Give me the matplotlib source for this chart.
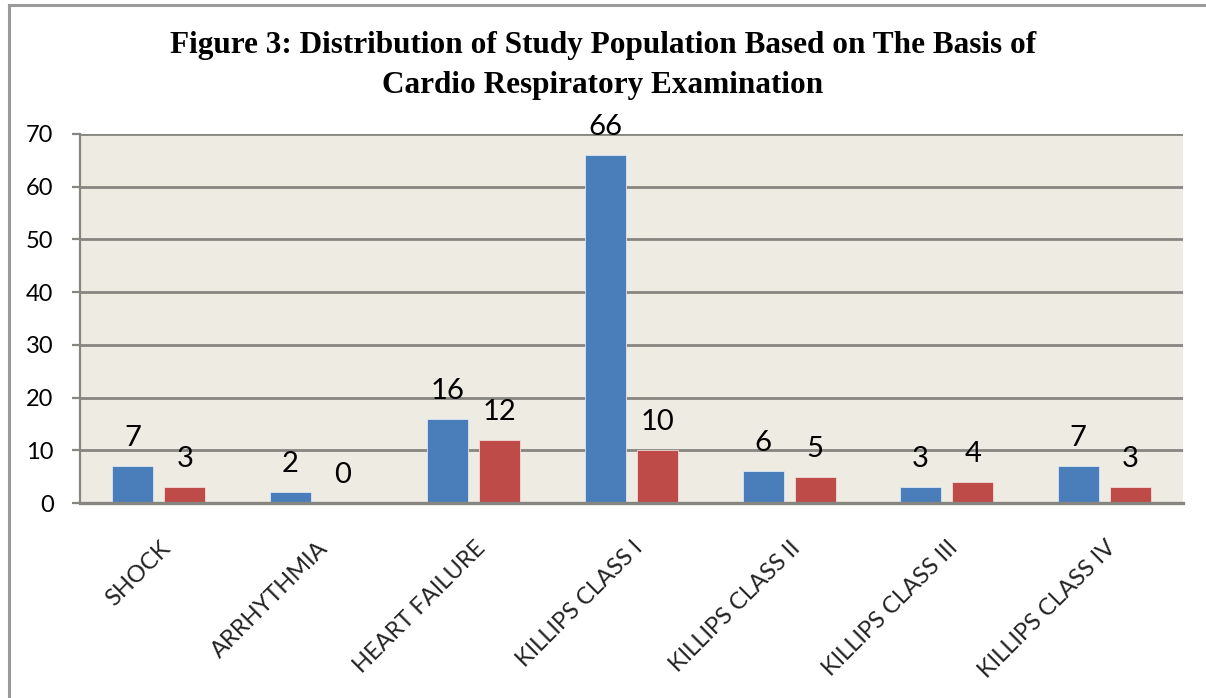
import matplotlib
matplotlib.use("Agg")
import matplotlib.pyplot as plt
import matplotlib.transforms as mtransforms
import numpy as np

categories = ["SHOCK", "ARRHYTHMIA", "HEART FAILURE", "KILLIPS CLASS I",
              "KILLIPS CLASS II", "KILLIPS CLASS III", "KILLIPS CLASS IV"]
series_blue = [7, 2, 16, 66, 6, 3, 7]
series_red = [3, 0, 12, 10, 5, 4, 3]
yticks = [0, 10, 20, 30, 40, 50, 60, 70]
title_lines = ["Figure 3: Distribution of Study Population Based on The Basis of",
               "Cardio Respiratory Examination"]

BLUE = "#4A7EBB"
RED = "#BE4B48"
GRID = "#878580"
BG = "#EEEBE2"
SANS = ["Lato", "DejaVu Sans"]

fig = plt.figure(figsize=(12.06, 6.98), dpi=100)
fig.patch.set_facecolor("white")
ax = fig.add_axes([80/1206, 1-503/698, (1183-80)/1206, (503-134)/698])
ax.set_facecolor(BG)

x = np.arange(len(categories))
w = 0.26
off = 0.165
ax.bar(x - off, series_blue, width=w, color=BLUE, zorder=3,
       edgecolor="#DCE6F2", linewidth=0.6)
ax.bar(x + off, series_red, width=w, color=RED, zorder=3,
       edgecolor="#F2DCDB", linewidth=0.6)

ax.set_xlim(-0.5, len(categories) - 0.5)
ax.set_ylim(0, 70)
ax.set_yticks(yticks)
ax.set_yticklabels([str(t) for t in yticks], fontsize=17, family=SANS)
ax.yaxis.grid(True, color=GRID, linewidth=2.0, zorder=1)
ax.set_axisbelow(True)
for s in ["top", "right"]:
    ax.spines[s].set_visible(False)
ax.spines["left"].set_color(GRID)
ax.spines["left"].set_linewidth(1.6)
ax.spines["bottom"].set_color(GRID)
ax.spines["bottom"].set_linewidth(2.4)
ax.spines["bottom"].set_zorder(4)
ax.tick_params(axis="y", length=6, width=1.6, color=GRID, pad=13)
ax.tick_params(axis="x", length=0, pad=30)

ax.set_xticks(x)
ax.set_xticklabels(categories, rotation=45, ha="right", va="center",
                   rotation_mode="anchor", fontsize=17, family=SANS, color="#222222")
shift = mtransforms.ScaledTranslation(8/100, 0, fig.dpi_scale_trans)
for lab in ax.get_xticklabels():
    lab.set_transform(lab.get_transform() + shift)

for xi, v in zip(x - off, series_blue):
    ax.annotate(str(v), (xi, v), xytext=(0, 28), textcoords="offset pixels",
                ha="center", va="center", fontsize=21, family=SANS, zorder=5)
for xi, v in zip(x + off, series_red):
    ax.annotate(str(v), (xi, v), xytext=(0, 28), textcoords="offset pixels",
                ha="center", va="center", fontsize=21, family=SANS, zorder=5)

fig.text(0.5, 1-46/698, title_lines[0], ha="center", va="center",
         fontsize=22.5, fontweight="bold", family=["Liberation Serif", "DejaVu Serif"])
fig.text(0.5, 1-85/698, title_lines[1], ha="center", va="center",
         fontsize=22.5, fontweight="bold", family=["Liberation Serif", "DejaVu Serif"])

# outer chart frame (top and left edges visible)
fig.add_artist(plt.Line2D([9/1206, 1.0], [1-5/698, 1-5/698], transform=fig.transFigure,
                          color="#9A9A9A", linewidth=2.2))
fig.add_artist(plt.Line2D([9/1206, 9/1206], [0, 1-5/698], transform=fig.transFigure,
                          color="#9A9A9A", linewidth=2.2))

fig.savefig("out.png", dpi=100)
